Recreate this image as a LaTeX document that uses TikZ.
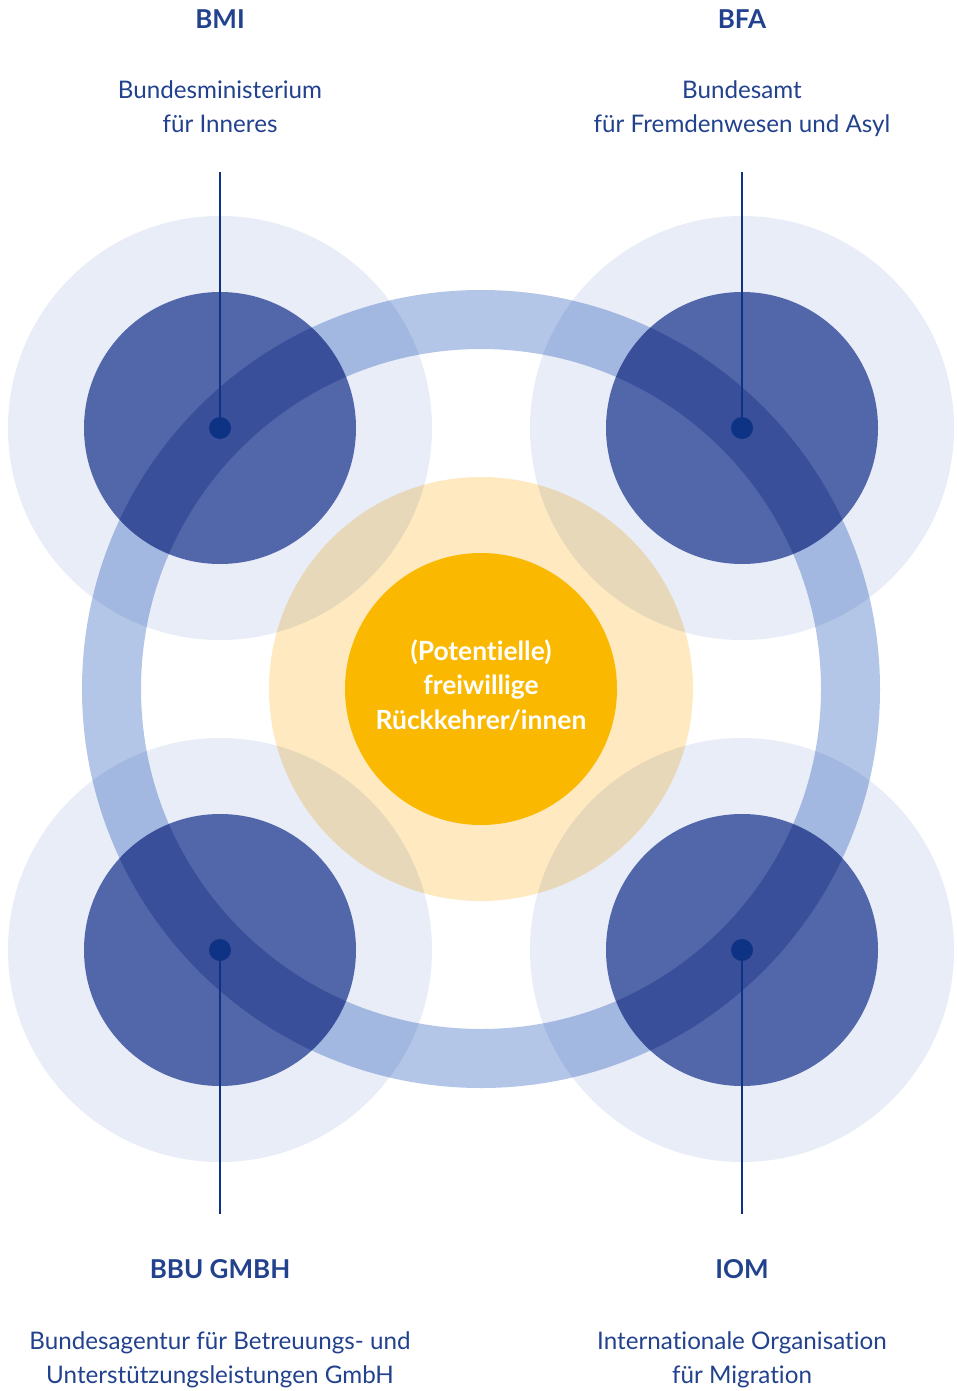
\documentclass[tikz,border=0pt]{standalone}
\usepackage{fontspec}
\setmainfont{Lato}[Ligatures={NoCommon}]
\definecolor{lightblue}{HTML}{E9EDF8}
\definecolor{darkblue}{HTML}{5266AA}
\definecolor{ringblue}{HTML}{B3C6E7}
\definecolor{lightyellow}{HTML}{FEE9C0}
\definecolor{darkyellow}{HTML}{FAB900}
\definecolor{linkblue}{HTML}{0E3385}
\definecolor{textblue}{HTML}{22428E}
\begin{document}
\begin{tikzpicture}[x=1pt,y=-1pt,
  halo/.style={fill=lightblue},
  core/.style={fill=darkblue},
  dotnode/.style={circle,fill=linkblue,inner sep=0pt,minimum size=22pt},
  link/.style={draw=linkblue,line width=2.4pt},
  title/.style={anchor=base,text=textblue,font=\fontsize{26}{30}\selectfont\bfseries,inner sep=0pt},
  desc/.style={anchor=base,text=textblue,font=\fontsize{24.2}{29}\selectfont,inner sep=0pt},
  center/.style={anchor=base,text=white,font=\fontsize{26.4}{30}\selectfont\bfseries,inner sep=0pt}]
\useasboundingbox (0,0) rectangle (956,1391);
\fill[white] (0,0) rectangle (956,1391);
% halos
\foreach \p in {(220,428),(742,428),(220,950),(742,950)}
  \fill[halo] \p circle[radius=212pt];
\begin{scope}[blend mode=multiply]
  \fill[lightyellow] (481,689) circle[radius=212pt];
\end{scope}
% cores
\foreach \p in {(220,428),(742,428),(220,950),(742,950)}
  \fill[core] \p circle[radius=136pt];
\fill[darkyellow] (481,689) circle[radius=136pt];
% ring
\begin{scope}[blend mode=multiply]
  \draw[ringblue,line width=59pt] (481,689) circle[radius=369.5pt];
\end{scope}
% dots
\node[dotnode] (bmidot) at (220,428) {};
\node[dotnode] (bfadot) at (742,428) {};
\node[dotnode] (bbudot) at (220,950) {};
\node[dotnode] (iomdot) at (742,950) {};
\coordinate (bmiend) at (220,172);
\coordinate (bfaend) at (742,172);
\coordinate (bbuend) at (220,1214);
\coordinate (iomend) at (742,1214);
\draw[link] (bmiend) -- (bmidot.center);
\draw[link] (bfaend) -- (bfadot.center);
\draw[link] (bbuend) -- (bbudot.center);
\draw[link] (iomend) -- (iomdot.center);
% texts
\node[title] (bmit) at (220,29) {BMI};
\node[desc] (bmid1) at (220,99) {Bundesministerium};
\node[desc] (bmid2) at (220,133) {für Inneres};
\node[title] (bfat) at (742,29) {BFA};
\node[desc] (bfad1) at (742,99) {Bundesamt};
\node[desc] (bfad2) at (742,133) {für Fremdenwesen und Asyl};
\node[title] (bbut) at (220,1278) {BBU GMBH};
\node[desc] (bbud1) at (220,1349) {Bundesagentur für Betreuungs- und};
\node[desc] (bbud2) at (220,1383) {Unterstützungsleistungen GmbH};
\node[title] (iomt) at (742,1278) {IOM};
\node[desc] (iomd1) at (742,1349) {Internationale Organisation};
\node[desc] (iomd2) at (742,1383) {für Migration};
\node[center] (c1) at (481,660) {(Potentielle)};
\node[center] (c2) at (481,694) {freiwillige};
\node[center] (c3) at (481,729) {Rückkehrer/innen};
\end{tikzpicture}
\end{document}
